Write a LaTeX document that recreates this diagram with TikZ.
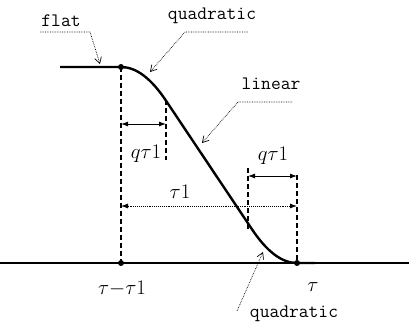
\documentclass[tikz,border=0pt]{standalone}
\usepackage{fontspec}
\usetikzlibrary{arrows.meta}

\begin{document}
\begin{tikzpicture}[
    x=1pt, y=-1pt,
    curve line/.style={line width=2.4pt},
    axis line/.style={line width=1.3pt},
    guide line/.style={line width=1.4pt, dash pattern=on 5pt off 3pt},
    dim arrow/.style={{Latex[length=7pt,width=5pt]}-{Latex[length=7pt,width=5pt]}, line width=0.9pt},
    span arrow/.style={dim arrow, densely dotted, line width=0.8pt},
    leader/.style={-{Straight Barb[length=6pt,width=7pt]}, densely dotted, line width=0.7pt},
    word/.style={font=\ttfamily\fontsize{19}{22}\selectfont, inner sep=0pt},
    sym/.style={font=\fontsize{22}{26}\selectfont, inner sep=0pt},
    dot/.style={circle, fill=black, inner sep=0pt, minimum size=6pt}
]
\useasboundingbox (0,0) rectangle (409,322);

    % Points
    \node[dot] (start) at (121,67) {};
    \node[dot] (base) at (121,263) {};
    \node[dot] (stop) at (297,263) {};
    \coordinate (flat left) at (60,67);
    \coordinate (blend in) at (166,100.7);
    \coordinate (blend out) at (252,229.3);
    \coordinate (tail) at (315,263);
    \coordinate (axis left) at (0,263);
    \coordinate (axis right) at (409,263);

    % Axis and curve
    \draw[axis line] (axis left) -- (axis right);
    \draw[curve line] (flat left) -- (start.center)
        .. controls (136,67) and (151,78.2) .. (blend in) -- (blend out)
        .. controls (267,251.8) and (282,263) .. (stop.center) -- (tail);

    % Guides
    \draw[guide line] (start.center) -- (base.center);
    \draw[guide line] (166,100) -- (166,160);
    \draw[guide line] (248,168) -- (248,230);
    \draw[guide line] (297,175) -- (stop.center);

    % Dimensions
    \draw[dim arrow] (121,124) -- (166,124);
    \draw[dim arrow] (248,176) -- (297,176);
    \draw[span arrow] (121,206) -- (297,206);
    \node[sym] (q left) at (146,154) {$q\tau1$};
    \node[sym] (q right) at (273,156) {$q\tau1$};
    \node[sym] (span) at (180,192) {$\tau1$};
    \node[sym] (base label) at (122,289) {$\tau{-}\tau1$};
    \node[sym] (stop label) at (313,287) {$\tau$};

    % Labels with leaders
    \node[word] (flat) at (61,21) {flat};
    \node[word] (quad top) at (212,16) {quadratic};
    \node[word] (linear) at (271,84) {linear};
    \node[word] (quad bottom) at (294,314) {quadratic};
    \draw[leader] (40,32) -- (90,32) -- (100,64);
    \draw[leader] (248,32) -- (185,32) -- (150,72);
    \draw[leader] (292,102) -- (238,102) -- (202,143);
    \draw[leader] (237,311) -- (263,252);

\end{tikzpicture}
\end{document}
